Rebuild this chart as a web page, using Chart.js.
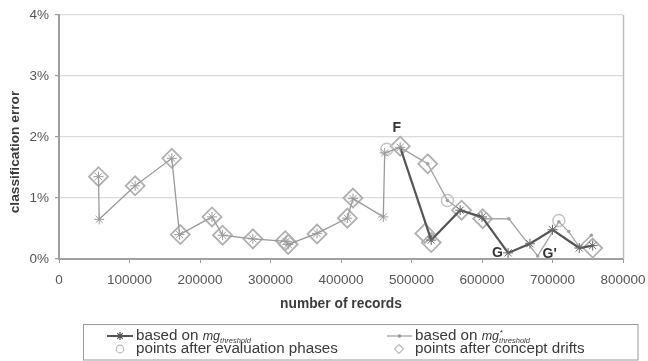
<!DOCTYPE html>
<html>
<head>
<meta charset="utf-8">
<script src="https://cdn.jsdelivr.net/npm/chart.js@4/dist/chart.umd.min.js"></script>
<style>
  html, body { margin: 0; padding: 0; background: #fff; }
  #wrap { width: 648px; height: 361px; position: relative; }
</style>
</head>
<body>
<div id="wrap"><canvas id="c" width="648" height="361"></canvas></div>
<script>
// Path shared by both threshold variants, up to the drift at F
const sharedX = [56000, 57000, 108000, 160000, 171000, 217000, 232000, 275000, 322000, 325000, 366000, 409000, 417000, 460000, 462000, 484000];
const sharedY = [1.35, 0.65, 1.20, 1.65, 0.40, 0.69, 0.39, 0.33, 0.29, 0.24, 0.42, 0.67, 0.99, 0.69, 1.74, 1.83];

// Continuation for the mg_threshold variant
const mgX = [528000, 569000, 600000, 637000, 668000, 700000, 738000, 757000];
const mgY = [0.31, 0.80, 0.69, 0.10, 0.25, 0.48, 0.18, 0.22];

// Continuation for the mg*_threshold variant
const mgStarX = [523000, 551000, 570000, 601000, 638000, 679000, 709000, 723000, 738000, 755000];
const mgStarY = [1.56, 0.96, 0.80, 0.66, 0.66, 0.05, 0.61, 0.45, 0.20, 0.39];

// Points after evaluation phases
const evalX = [465000, 551000, 709000];
const evalY = [1.80, 0.96, 0.63];

// Points after concept drifts
const driftX = [56000, 108000, 160000, 172000, 217000, 232000, 275000, 321000, 325000, 366000, 409000, 417000, 484000, 523000, 519000, 528000, 571000, 601000, 757000];
const driftY = [1.35, 1.20, 1.65, 0.40, 0.69, 0.39, 0.33, 0.30, 0.24, 0.41, 0.67, 1.00, 1.85, 1.56, 0.42, 0.27, 0.80, 0.66, 0.18];

// Point labels
const noteText = ['F', 'G', "G'"];
const noteX = [479000, 622000, 696000];
const noteY = [2.14, 0.09, 0.08];

// Axis ticks and titles
const xTickValues = [0, 100000, 200000, 300000, 400000, 500000, 600000, 700000, 800000];
const xTickLabels = ['0', '100000', '200000', '300000', '400000', '500000', '600000', '700000', '800000'];
const yTickValues = [0, 1, 2, 3, 4];
const yTickLabels = ['0%', '1%', '2%', '3%', '4%'];
const xTitle = 'number of records';
const yTitle = 'classification error';

const FONT = "'Liberation Sans', Arial, sans-serif";
const pts = (xs, ys) => xs.map((x, i) => ({ x: x, y: ys[i] }));
const nShared = sharedX.length;

const mgData = pts(sharedX.concat(mgX), sharedY.concat(mgY));
const mgStarData = pts(sharedX.slice(-1).concat(mgStarX), sharedY.slice(-1).concat(mgStarY));

// Plot-area frame on the right edge
const framePlugin = {
  id: 'frame',
  beforeDatasetsDraw(chart) {
    const { ctx, chartArea: a } = chart;
    ctx.save();
    ctx.strokeStyle = '#bdbdbd';
    ctx.lineWidth = 1.5;
    ctx.beginPath();
    ctx.moveTo(a.right + 0.5, a.top);
    ctx.lineTo(a.right + 0.5, a.bottom);
    ctx.stroke();
    ctx.restore();
  }
};

// Letters marking the drift points, and the vertical axis title
const notesPlugin = {
  id: 'notes',
  afterDatasetsDraw(chart) {
    const { ctx, scales: { x, y } } = chart;
    ctx.save();
    ctx.font = 'bold 14px ' + FONT;
    ctx.fillStyle = '#333';
    ctx.textAlign = 'center';
    ctx.textBaseline = 'middle';
    noteText.forEach((t, i) => ctx.fillText(t, x.getPixelForValue(noteX[i]), y.getPixelForValue(noteY[i])));
    ctx.restore();

    ctx.save();
    ctx.translate(15, 152);
    ctx.rotate(-Math.PI / 2);
    ctx.font = 'bold 13.7px ' + FONT;
    ctx.fillStyle = '#3c3c3c';
    ctx.textAlign = 'center';
    ctx.textBaseline = 'middle';
    ctx.fillText(yTitle, 0, 0);
    ctx.restore();
  }
};

// Boxed legend with the subscripted threshold names
const legendPlugin = {
  id: 'boxLegend',
  afterDraw(chart) {
    const ctx = chart.ctx;
    const top = 324.5, bottom = 360, left = 83.5, right = 638;
    const r1 = 336, r2 = 349;
    ctx.save();
    ctx.strokeStyle = '#9a9a9a';
    ctx.lineWidth = 1;
    ctx.strokeRect(left, top, right - left, bottom - top);

    // swatch: dark line with asterisk
    ctx.strokeStyle = '#555';
    ctx.lineWidth = 2;
    ctx.beginPath(); ctx.moveTo(107, r1); ctx.lineTo(133, r1); ctx.stroke();
    ctx.lineWidth = 1.2;
    ctx.beginPath();
    for (let k = 0; k < 4; k++) {
      const a = k * Math.PI / 4;
      ctx.moveTo(120 - 4 * Math.cos(a), r1 - 4 * Math.sin(a));
      ctx.lineTo(120 + 4 * Math.cos(a), r1 + 4 * Math.sin(a));
    }
    ctx.stroke();

    // swatch: grey line with dot
    ctx.strokeStyle = '#999';
    ctx.lineWidth = 1.2;
    ctx.beginPath(); ctx.moveTo(387, r1); ctx.lineTo(412, r1); ctx.stroke();
    ctx.fillStyle = '#999';
    ctx.beginPath(); ctx.arc(399.5, r1, 1.8, 0, Math.PI * 2); ctx.fill();

    // swatch: circle
    ctx.strokeStyle = '#bbb';
    ctx.lineWidth = 1.2;
    ctx.beginPath(); ctx.arc(120, r2, 3.8, 0, Math.PI * 2); ctx.stroke();

    // swatch: diamond
    ctx.beginPath();
    ctx.moveTo(399, r2 - 4.5); ctx.lineTo(403.5, r2); ctx.lineTo(399, r2 + 4.5); ctx.lineTo(394.5, r2); ctx.closePath();
    ctx.stroke();

    ctx.fillStyle = '#3a3a3a';
    ctx.textBaseline = 'middle';
    ctx.textAlign = 'left';
    const base = '15.2px ' + FONT;
    const drawName = (x0, y0, star) => {
      ctx.font = base;
      ctx.fillText('based on ', x0, y0);
      let x1 = x0 + ctx.measureText('based on ').width;
      ctx.font = 'italic 12.5px ' + FONT;
      ctx.fillText('mg', x1, y0 + 1);
      x1 += ctx.measureText('mg').width;
      if (star) {
        ctx.font = 'italic 8px ' + FONT;
        ctx.fillText('*', x1 + 0.5, y0 - 3);
      }
      ctx.font = 'italic 7.5px ' + FONT;
      ctx.fillText('threshold', x1, y0 + 5);
    };
    drawName(136, r1, false);
    drawName(415, r1, true);
    ctx.font = base;
    ctx.fillText('points after evaluation phases', 136, r2);
    ctx.fillText('points after concept drifts', 415, r2);
    ctx.restore();
  }
};

new Chart(document.getElementById('c'), {
  type: 'scatter',
  data: {
    datasets: [
      {
        label: 'points after concept drifts',
        data: pts(driftX, driftY),
        pointStyle: 'rectRot',
        pointRadius: 9.5,
        pointBorderColor: '#b0b0b0',
        pointBackgroundColor: 'rgba(255,255,255,0)',
        pointBorderWidth: 1.8,
        showLine: false,
        order: 4
      },
      {
        label: 'points after evaluation phases',
        data: pts(evalX, evalY),
        pointStyle: 'circle',
        pointRadius: 6,
        pointBorderColor: '#c4c4c4',
        pointBackgroundColor: 'rgba(255,255,255,0)',
        pointBorderWidth: 1.5,
        showLine: false,
        order: 3
      },
      {
        label: 'based on mg*threshold',
        data: mgStarData,
        showLine: true,
        borderColor: '#a6a6a6',
        borderWidth: 1.3,
        pointStyle: 'circle',
        pointRadius: 1.8,
        pointBorderWidth: 0,
        pointBackgroundColor: '#a0a0a0',
        order: 2
      },
      {
        label: 'based on mgthreshold',
        data: mgData,
        showLine: true,
        borderWidth: 1.3,
        borderColor: '#999',
        segment: {
          borderColor: ctx => ctx.p0DataIndex >= nShared - 1 ? '#555' : '#9a9a9a',
          borderWidth: ctx => ctx.p0DataIndex >= nShared - 1 ? 2.2 : 1.3
        },
        pointStyle: 'star',
        pointRadius: 5,
        pointBorderWidth: 1,
        pointBorderColor: ctx => ctx.dataIndex >= nShared ? '#666' : '#9a9a9a',
        pointBackgroundColor: 'rgba(0,0,0,0)',
        order: 1
      }
    ]
  },
  options: {
    responsive: false,
    animation: false,
    events: [],
    layout: { padding: { left: 0, right: 25, top: 15, bottom: 40 } },
    plugins: { legend: { display: false }, tooltip: { enabled: false } },
    scales: {
      x: {
        type: 'linear',
        min: 0,
        max: 800000,
        afterFit: s => { s.height = 62; s.paddingLeft = 0; s.paddingRight = 0; },
        afterBuildTicks: s => { s.ticks = xTickValues.map(v => ({ value: v })); },
        ticks: {
          callback: (v) => xTickLabels[xTickValues.indexOf(v)],
          font: { family: FONT, size: 13.5 },
          color: '#555',
          padding: 9,
          maxRotation: 0,
          autoSkip: false
        },
        grid: { drawOnChartArea: false, drawTicks: true, tickLength: 4, tickColor: '#9a9a9a', tickWidth: 1 },
        border: { color: '#a0a0a0', width: 2 },
        title: {
          display: true,
          text: xTitle,
          font: { family: FONT, size: 13.8, weight: 'bold' },
          color: '#3c3c3c',
          padding: { top: 0, bottom: 9 }
        }
      },
      y: {
        type: 'linear',
        min: 0,
        max: 4,
        afterFit: s => { s.width = 59; s.paddingTop = 0; s.paddingBottom = 0; },
        afterBuildTicks: s => { s.ticks = yTickValues.map(v => ({ value: v })); },
        ticks: {
          callback: (v) => yTickLabels[yTickValues.indexOf(v)],
          font: { family: FONT, size: 13.5 },
          color: '#555',
          padding: 6
        },
        grid: { color: '#dadada', lineWidth: 1.2, tickLength: 4, tickColor: '#9a9a9a' },
        border: { color: '#a0a0a0', width: 2 },
        title: { display: false }
      }
    }
  },
  plugins: [framePlugin, notesPlugin, legendPlugin]
});
</script>
</body>
</html>
